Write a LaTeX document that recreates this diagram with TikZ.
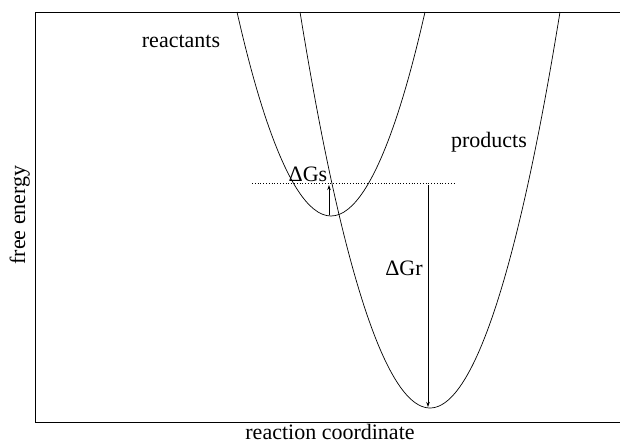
\documentclass[tikz,border=0pt]{standalone}
\usepackage{fontspec}
\setmainfont{Liberation Serif}
\usetikzlibrary{arrows.meta}

\begin{document}
\begin{tikzpicture}[
    x=1pt, y=-1pt,
    lbl/.style={
        font=\fontsize{22}{26}\selectfont,
        inner sep=0pt
    },
    curve/.style={line width=0.7pt},
    arrow/.style={-{Stealth[length=5pt,width=3.5pt]},line width=0.7pt}
]
\useasboundingbox (0,0) rectangle (620,445);

% axes box
\draw[line width=0.8pt] (620,12) -- (35,12) -- (35,422) -- (620,422);

% the two free energy curves
\draw[curve] (237,12) parabola bend (331,216) (425,12);
\draw[curve] (300,12) parabola bend (430,408) (560,12);

\coordinate (rmin) at (329,215);
\coordinate (pmin) at (428,407);
\coordinate (sTop) at (329,185);
\coordinate (rTop) at (428,185);
\coordinate (dl) at (252,183);
\coordinate (dr) at (455,183);

\draw[dotted,line width=0.8pt] (dl) -- (dr);
\draw[arrow] (rmin) -- (sTop);
\draw[arrow] (rTop) -- (pmin);

\node[lbl, anchor=base] (reac) at (181,47) {reactants};
\node[lbl, anchor=base] (prod) at (489,147) {products};
\node[lbl] (dgs) at (308,174) {ΔGs};
\node[lbl] (dgr) at (404,268) {ΔGr};
\node[lbl, anchor=base, rotate=90] (yax) at (25,215) {free energy};
\node[lbl, anchor=base] (xax) at (330,439) {reaction coordinate};
\end{tikzpicture}
\end{document}
